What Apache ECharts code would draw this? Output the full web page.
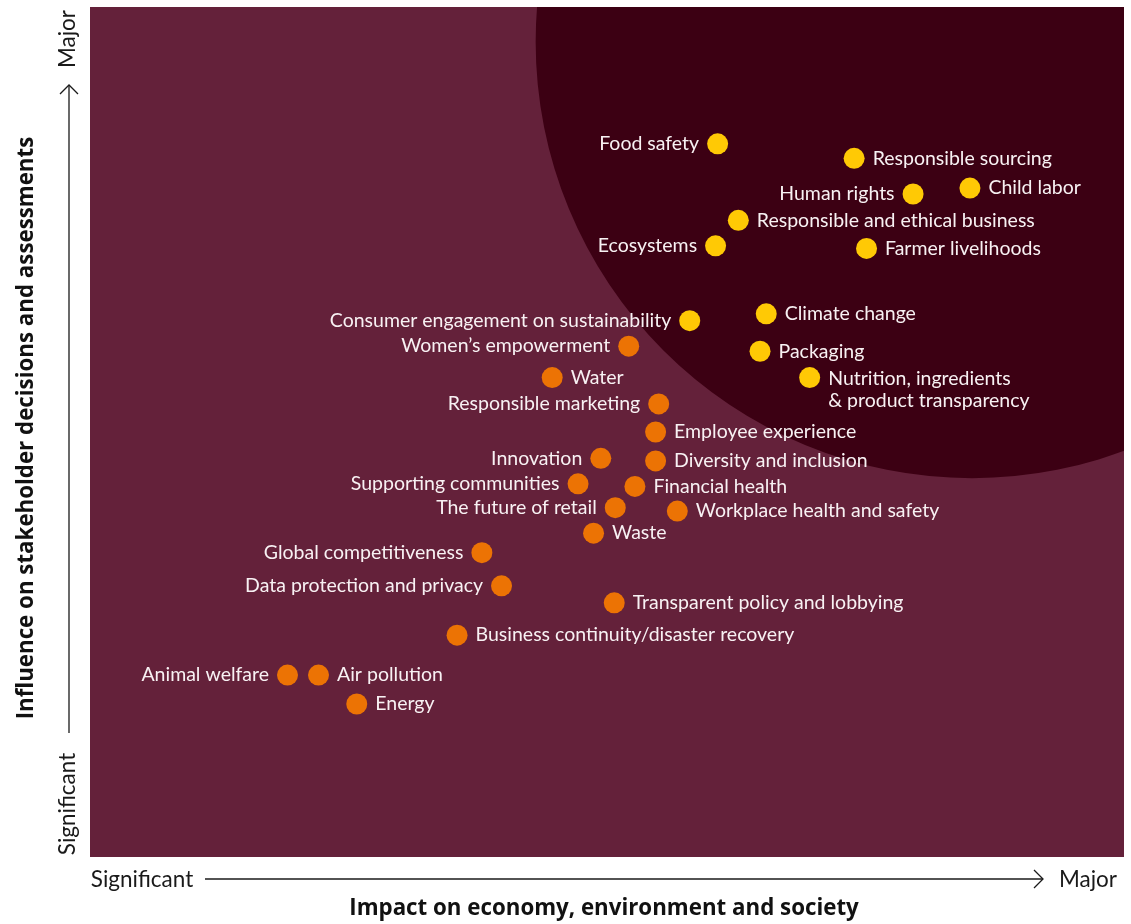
<!DOCTYPE html>
<html>
<head>
<meta charset="utf-8">
<script src="https://cdn.jsdelivr.net/npm/echarts@6/dist/echarts.min.js"></script>
<style>
html,body{margin:0;padding:0;background:#fff;}
#c{width:1131px;height:924px;}
</style>
</head>
<body>
<div id="c"></div>
<script>
// ---- Data ----
const majorNames = ["Food safety","Responsible sourcing","Human rights","Child labor","Responsible and ethical business","Ecosystems","Farmer livelihoods","Consumer engagement on sustainability","Climate change","Packaging","Nutrition, ingredients\n& product transparency"];
const majorImpact = [60.7,73.9,79.6,85.1,62.7,60.5,75.1,58.0,65.4,64.8,69.6];
const majorInfluence = [83.9,82.2,78.0,78.7,74.9,71.9,71.6,63.1,63.9,59.5,56.4];

const otherNames = ["Women’s empowerment","Water","Responsible marketing","Employee experience","Innovation","Diversity and inclusion","Supporting communities","Financial health","The future of retail","Workplace health and safety","Waste","Global competitiveness","Data protection and privacy","Transparent policy and lobbying","Business continuity/disaster recovery","Animal welfare","Air pollution","Energy"];
const otherImpact = [52.1,44.7,55.0,54.7,49.4,54.7,47.2,52.7,50.8,56.8,48.7,37.9,39.8,50.7,35.5,19.1,22.1,25.8];
const otherInfluence = [60.1,56.4,53.3,50.0,46.9,46.6,43.9,43.6,41.1,40.7,38.1,35.8,31.9,29.9,26.1,21.4,21.4,18.0];

// highlighted zone (circle): centre [impact, influence], radius in impact units
const zoneCenter = [85.3, 95.9];
const zoneRadius = [42.2];

const axisMin = 0, axisMax = 100;
const xAxisTitle = "Impact on economy, environment and society";
const yAxisTitle = "Influence on stakeholder decisions and assessments";
const lowLabel = "Significant", highLabel = "Major";

// labels that sit to the left of their dot
const leftLabeled = ["Food safety","Human rights","Ecosystems","Consumer engagement on sustainability","Women’s empowerment","Responsible marketing","Innovation","Supporting communities","The future of retail","Global competitiveness","Data protection and privacy","Animal welfare"];

// ---- Build ----
const labelFont = 'Lato, "Open Sans", sans-serif';
function build(names, xs, ys) {
  return names.map((n, i) => {
    const left = leftLabeled.indexOf(n) >= 0;
    const item = { name: n, value: [xs[i], ys[i]], label: { position: left ? 'left' : 'right' } };
    if (n.indexOf('\n') >= 0) {
      item.label.offset = [0, 12];
    }
    return item;
  });
}

const chart = echarts.init(document.getElementById('c'), null, { renderer: 'canvas' });
const textColor = '#1a1a1a';
const pointLabel = { show: true, formatter: '{b}', color: '#F8F1F3', fontFamily: labelFont, fontSize: 19.5, distance: 8, lineHeight: 22 };
const option = {
  animation: false,
  grid: { left: 90, right: 7, top: 7, bottom: 67, show: true, backgroundColor: '#64213A', borderWidth: 0 },
  xAxis: { type: 'value', min: axisMin, max: axisMax, show: false },
  yAxis: { type: 'value', min: axisMin, max: axisMax, show: false },
  series: [
    {
      type: 'custom',
      silent: true,
      data: [[zoneCenter[0], zoneCenter[1], zoneRadius[0]]],
      renderItem: function (params, api) {
        const c = api.coord([api.value(0), api.value(1)]);
        const r = api.size([api.value(2), 0])[0];
        const cs = params.coordSys;
        return {
          type: 'circle',
          shape: { cx: c[0], cy: c[1], r: r },
          style: { fill: '#3C0013' },
          clipPath: { type: 'rect', shape: { x: cs.x, y: cs.y, width: cs.width, height: cs.height } }
        };
      },
      z: 1
    },
    {
      type: 'scatter',
      symbolSize: 21,
      itemStyle: { color: '#FFC905', opacity: 1 },
      label: pointLabel,
      data: build(majorNames, majorImpact, majorInfluence),
      z: 3
    },
    {
      type: 'scatter',
      symbolSize: 21,
      itemStyle: { color: '#EC7304', opacity: 1 },
      label: pointLabel,
      data: build(otherNames, otherImpact, otherInfluence),
      z: 3
    }
  ],
  graphic: [
    // x axis arrow
    { type: 'line', shape: { x1: 205, y1: 879, x2: 1043, y2: 879 }, style: { stroke: textColor, lineWidth: 1.3 } },
    { type: 'polyline', shape: { points: [[1034, 870], [1043, 879], [1034, 888]] }, style: { stroke: textColor, lineWidth: 1.3, fill: null } },
    { type: 'text', x: 142, y: 880, style: { text: lowLabel, font: '22.5px ' + labelFont, fill: textColor, align: 'center', verticalAlign: 'middle' } },
    { type: 'text', x: 1088, y: 880, style: { text: highLabel, font: '22.5px ' + labelFont, fill: textColor, align: 'center', verticalAlign: 'middle' } },
    { type: 'text', x: 604, y: 909, style: { text: xAxisTitle, font: 'bold 22.3px "Open Sans", sans-serif', fill: '#111', align: 'center', verticalAlign: 'middle' } },
    // y axis arrow
    { type: 'line', shape: { x1: 69, y1: 85, x2: 69, y2: 733 }, style: { stroke: textColor, lineWidth: 1.3 } },
    { type: 'polyline', shape: { points: [[60, 94], [69, 85], [78, 94]] }, style: { stroke: textColor, lineWidth: 1.3, fill: null } },
    { type: 'text', x: 68, y: 39, rotation: Math.PI / 2, style: { text: highLabel, font: '22.5px ' + labelFont, fill: textColor, align: 'center', verticalAlign: 'middle' } },
    { type: 'text', x: 68, y: 804, rotation: Math.PI / 2, style: { text: lowLabel, font: '22.5px ' + labelFont, fill: textColor, align: 'center', verticalAlign: 'middle' } },
    { type: 'text', x: 27, y: 428, rotation: Math.PI / 2, style: { text: yAxisTitle, font: 'bold 22.3px "Open Sans", sans-serif', fill: '#111', align: 'center', verticalAlign: 'middle' } }
  ]
};
chart.setOption(option);
</script>
</body>
</html>
